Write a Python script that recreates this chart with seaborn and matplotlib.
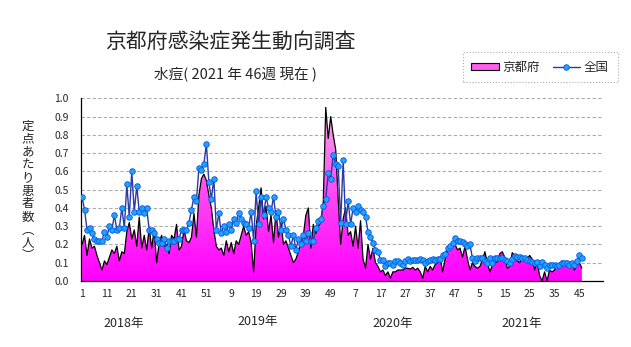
import numpy as np
import pandas as pd
import matplotlib
matplotlib.use("Agg")
import matplotlib.pyplot as plt
import seaborn as sns
from matplotlib.colors import LinearSegmentedColormap
from matplotlib.patches import Patch
from matplotlib.lines import Line2D

# ---------------- data (per-week) ----------------
kyoto_2018 = [0.20, 0.25, 0.14, 0.23, 0.18, 0.19, 0.14, 0.10, 0.06, 0.11,
              0.09, 0.13, 0.17, 0.15, 0.19, 0.11, 0.16, 0.15, 0.27, 0.32,
              0.23, 0.28, 0.19, 0.35, 0.18, 0.25, 0.17, 0.29, 0.18, 0.28,
              0.10, 0.21, 0.25, 0.19, 0.20, 0.15, 0.25, 0.23, 0.31, 0.17,
              0.19, 0.28, 0.22, 0.21, 0.24, 0.37, 0.24, 0.47, 0.56, 0.585,
              0.55, 0.47]
kyoto_2019 = [0.40, 0.28, 0.19, 0.17, 0.18, 0.14, 0.22, 0.16, 0.21, 0.15,
              0.22, 0.20, 0.25, 0.30, 0.25, 0.27, 0.21, 0.05, 0.30, 0.40,
              0.51, 0.34, 0.41, 0.27, 0.36, 0.21, 0.38, 0.24, 0.32, 0.20,
              0.22, 0.18, 0.14, 0.10, 0.12, 0.16, 0.21, 0.25, 0.36, 0.40,
              0.18, 0.31, 0.26, 0.30, 0.32, 0.43, 0.95, 0.78, 0.90, 0.80,
              0.72, 0.45]
kyoto_2020 = [0.20, 0.34, 0.40, 0.25, 0.27, 0.19, 0.30, 0.18, 0.33, 0.12,
              0.07, 0.20, 0.12, 0.18, 0.10, 0.08, 0.05, 0.06, 0.03, 0.05,
              0.015, 0.05, 0.05, 0.06, 0.06, 0.06, 0.07, 0.07, 0.065, 0.075,
              0.06, 0.07, 0.05, 0.015, 0.08, 0.05, 0.08, 0.06, 0.09, 0.10,
              0.13, 0.05, 0.12, 0.17, 0.19, 0.215, 0.20, 0.17, 0.18, 0.13,
              0.19, 0.12]
kyoto_2021 = [0.06, 0.10, 0.08, 0.07, 0.08, 0.115, 0.16, 0.10, 0.05, 0.085,
              0.10, 0.105, 0.15, 0.16, 0.13, 0.07, 0.08, 0.155, 0.14, 0.11,
              0.10, 0.13, 0.13, 0.12, 0.14, 0.12, 0.06, 0.11, 0.03, 0.0,
              0.05, 0.0, 0.06, 0.05, 0.06, 0.09, 0.08, 0.11, 0.09, 0.11,
              0.08, 0.10, 0.06, 0.09, 0.10, 0.07]

national_2018 = [0.46, 0.39, 0.28, 0.29, 0.26, 0.23, 0.22, 0.22, 0.22, 0.27,
                 0.24, 0.30, 0.28, 0.36, 0.28, 0.29, 0.40, 0.29, 0.53, 0.35,
                 0.60, 0.38, 0.52, 0.38, 0.40, 0.37, 0.40, 0.28, 0.28, 0.26,
                 0.23, 0.21, 0.21, 0.23, 0.18, 0.22, 0.22, 0.22, 0.23, 0.23,
                 0.28, 0.28, 0.28, 0.32, 0.39, 0.46, 0.44, 0.62, 0.61, 0.64,
                 0.75, 0.54]
national_2019 = [0.45, 0.56, 0.28, 0.37, 0.26, 0.30, 0.27, 0.31, 0.28, 0.34,
                 0.32, 0.37, 0.34, 0.32, 0.31, 0.29, 0.38, 0.22, 0.49, 0.31,
                 0.46, 0.36, 0.46, 0.40, 0.38, 0.46, 0.35, 0.38, 0.28, 0.34,
                 0.28, 0.25, 0.19, 0.25, 0.17, 0.23, 0.20, 0.25, 0.22, 0.26,
                 0.22, 0.22, 0.29, 0.33, 0.34, 0.41, 0.45, 0.59, 0.56, 0.69,
                 0.64, 0.63]
national_2020 = [0.32, 0.66, 0.31, 0.44, 0.31, 0.40, 0.38, 0.41, 0.39, 0.38,
                 0.35, 0.27, 0.24, 0.21, 0.17, 0.16, 0.115, 0.115, 0.08, 0.10,
                 0.10, 0.09, 0.11, 0.11, 0.10, 0.09, 0.11, 0.12, 0.11, 0.115,
                 0.115, 0.115, 0.12, 0.115, 0.10, 0.11, 0.115, 0.12, 0.115, 0.12,
                 0.12, 0.14, 0.15, 0.18, 0.19, 0.21, 0.235, 0.22, 0.22, 0.215,
                 0.20, 0.19]
national_2021 = [0.20, 0.124, 0.11, 0.124, 0.128, 0.128, 0.11, 0.10, 0.124, 0.097,
                 0.124, 0.124, 0.124, 0.124, 0.115, 0.11, 0.10, 0.118, 0.137, 0.133,
                 0.133, 0.124, 0.124, 0.115, 0.11, 0.106, 0.097, 0.106, 0.08, 0.106,
                 0.09, 0.073, 0.088, 0.088, 0.088, 0.08, 0.088, 0.097, 0.097, 0.097,
                 0.085, 0.097, 0.088, 0.11, 0.14, 0.128]

xtick_labels = ["1", "11", "21", "31", "41", "51", "9", "19", "29", "39", "49",
                "7", "17", "27", "37", "47", "5", "15", "25", "35", "45"]
year_labels = ["2018年", "2019年", "2020年", "2021年"]
ytick_values = [0.0, 0.1, 0.2, 0.3, 0.4, 0.5, 0.6, 0.7, 0.8, 0.9, 1.0]

title = "京都府感染症発生動向調査"
subtitle = "水痘( 2021 年 46週 現在 )"
ylabel = "定点あたり患者数︵人︶"
series_names = ["京都府", "全国"]

# ---------------- build table ----------------
kyoto = np.array(kyoto_2018 + kyoto_2019 + kyoto_2020 + kyoto_2021)
national = np.array(national_2018 + national_2019 + national_2020 + national_2021)
df = pd.DataFrame({"idx": np.arange(len(kyoto)), "kyoto": kyoto, "national": national})

# ---------------- style ----------------
sns.set_style("white")
plt.rcParams["font.family"] = ["Noto Sans CJK JP", "DejaVu Sans"]

W, H = 631, 347
fig = plt.figure(figsize=(W / 100, H / 100), dpi=100)
ax = fig.add_axes([81.3 / W, 66 / H, 521.7 / W, (281 - 98.3) / H])

# gradient-filled area for Kyoto
fill = ax.fill_between(df["idx"], 0, df["kyoto"], facecolor="none",
                       edgecolor="none", zorder=1)
cmap = LinearSegmentedColormap.from_list("pk", ["#ff00ff", "#ff4cf2", "#f6b3ea"])
grad = np.linspace(0, 1, 256).reshape(-1, 1)
im = ax.imshow(grad, extent=[0, len(kyoto) - 1, 0, 1.0], origin="lower",
               aspect="auto", cmap=cmap, zorder=1, interpolation="bilinear")
im.set_clip_path(fill.get_paths()[0], transform=ax.transData)

sns.lineplot(data=df, x="idx", y="kyoto", ax=ax, color="black", lw=0.9,
             zorder=3)
sns.lineplot(data=df, x="idx", y="national", ax=ax, color="#2a3aa6", lw=1.0,
             marker="o", markersize=4.0, markerfacecolor="#1ea4ff",
             markeredgecolor="#0a55e0", markeredgewidth=0.6, zorder=4)

ax.set_xlim(-0.3, 209.5)
ax.set_ylim(0, 1.0)
ax.set_xlabel("")
ax.set_ylabel("")

ax.set_yticks(ytick_values)
ax.set_yticklabels([f"{v:.1f}" for v in ytick_values], fontsize=7.5)
ax.set_xticks(np.arange(0, len(kyoto), 10))
ax.set_xticklabels(xtick_labels, fontsize=7.5)
ax.set_xticks(np.arange(5, 206, 10), minor=True)
ax.tick_params(axis="both", which="both", direction="in", length=3.5,
               width=0.8, color="black")
ax.tick_params(axis="y", pad=9)
ax.tick_params(axis="x", pad=6)

ax.set_axisbelow(True)
ax.yaxis.grid(True, linestyle=(0, (3, 2)), color="#ababab", lw=0.8)
ax.xaxis.grid(False)
for s in ["top", "right"]:
    ax.spines[s].set_visible(False)
for s in ["left", "bottom"]:
    ax.spines[s].set_color("black")
    ax.spines[s].set_linewidth(0.9)

# texts
fig.text(230 / W, 1 - 42 / H, title, fontsize=15, ha="center", va="center")
fig.text(235 / W, 1 - 75 / H, subtitle, fontsize=10.5, ha="center", va="center")
fig.text(28 / W, 1 - 191 / H, "\n".join(ylabel), fontsize=9, ha="center",
         va="center", linespacing=1.0)
year_x = [124, 258, 393, 522]
year_y = [323, 321, 324, 324]
for lab, xx, yy in zip(year_labels, year_x, year_y):
    fig.text(xx / W, 1 - yy / H, lab, fontsize=9, ha="center", va="center")

# legend
handles = [Patch(facecolor="#ff5cf0", edgecolor="black", lw=0.8),
           Line2D([0], [0], color="#2a3aa6", lw=1.0, marker="o", markersize=4.0,
                  markerfacecolor="#1ea4ff", markeredgecolor="#0a55e0",
                  markeredgewidth=0.6)]
leg = fig.legend(handles, series_names, ncol=2, loc="center",
                 bbox_to_anchor=(540 / W, 1 - 67 / H), fontsize=9,
                 frameon=True, fancybox=False, edgecolor="#999999",
                 handlelength=2.2, handleheight=0.5, columnspacing=1.0,
                 borderpad=0.7, handletextpad=0.3)
leg.get_frame().set_linestyle(":")
leg.get_frame().set_linewidth(0.8)

fig.savefig("out.png", dpi=100)
